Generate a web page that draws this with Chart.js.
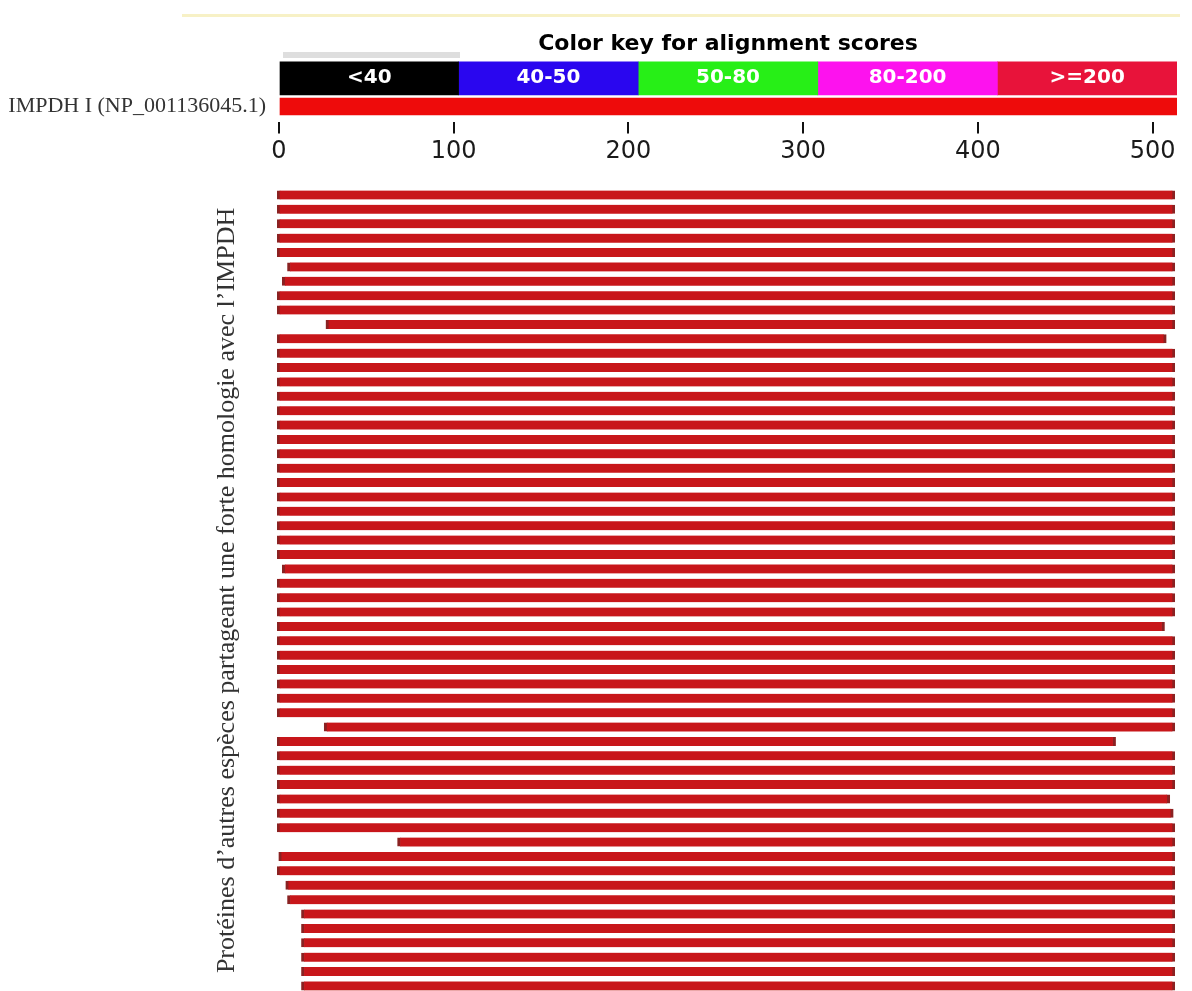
<!DOCTYPE html>
<html>
<head>
<meta charset="utf-8">
<title>IMPDH I - color key and hits</title>
<script src="https://cdn.jsdelivr.net/npm/chart.js@4.4.0/dist/chart.umd.min.js"></script>
<style>
  html, body { margin: 0; padding: 0; background: #fff; overflow: hidden; width: 1192px; height: 991px; }
  #wrap { position: relative; width: 1192px; height: 991px; }
  #rule { position: absolute; left: 182px; top: 14px; width: 998px; height: 3px; background: #f7f1c6; }
  #tab { position: absolute; left: 283px; top: 52px; width: 177px; height: 6px; background: #dedede; }
  #hitBox { position: absolute; left: 0; top: 0; width: 1192px; height: 1000px; }
  #keyBox { position: absolute; left: 0; top: 0; width: 1192px; height: 170px; }
</style>
</head>
<body>
<div id="wrap">
  <div id="rule"></div>
  <div id="tab"></div>
  <div id="hitBox"><canvas id="hitCanvas"></canvas></div>
  <div id="keyBox"><canvas id="keyCanvas"></canvas></div>
</div>
<script>
// query
const queryName = "IMPDH I (NP_001136045.1)";
const queryLength = 514;
const axisTicks = [0, 100, 200, 300, 400, 500];

// color key
const keyLabels = ["<40", "40-50", "50-80", "80-200", ">=200"];
const keyFrom = [0, 102.8, 205.6, 308.4, 411.2];
const keyTo = [102.8, 205.6, 308.4, 411.2, 514];
const keyColors = ["#000000", "#2a06ef", "#27ef17", "#fd12ee", "#e8133a"];

// hits, top to bottom (start / end on the query)
const hitStart = [0, 0, 0, 0, 0, 6, 3, 0, 0, 28,
                  0, 0, 0, 0, 0, 0, 0, 0, 0, 0,
                  0, 0, 0, 0, 0, 0, 3, 0, 0, 0,
                  0, 0, 0, 0, 0, 0, 0, 27, 0, 0,
                  0, 0, 0, 0, 0, 69, 1, 0, 5, 6,
                  14, 14, 14, 14, 14, 14];
const hitEnd = [514, 514, 514, 514, 514, 514, 514, 514, 514, 514,
                509, 514, 514, 514, 514, 514, 514, 514, 514, 514,
                514, 514, 514, 514, 514, 514, 514, 514, 514, 514,
                508, 514, 514, 514, 514, 514, 514, 514, 480, 514,
                514, 514, 511, 513, 514, 514, 514, 514, 514, 514,
                514, 514, 514, 514, 514, 514];
const yTitle = "Protéines d’autres espèces partageant une forte homologie avec l’IMPDH";

const hitLabels = hitStart.map((s, i) => "hit " + (i + 1));

// white text inside the color key boxes
const keyText = {
  id: "keyText",
  afterDatasetsDraw(chart) {
    const ctx = chart.ctx;
    ctx.save();
    ctx.font = 'bold 20px "DejaVu Sans"';
    ctx.fillStyle = "#fff";
    ctx.textAlign = "center";
    ctx.textBaseline = "middle";
    chart.data.datasets.forEach((ds, i) => {
      if (!ds.keyText) return;
      const bar = chart.getDatasetMeta(i).data[0];
      ctx.fillText(ds.label, (bar.x + bar.base) / 2, bar.y + 1);
    });
    ctx.restore();
  }
};

const keySets = keyLabels.map((lab, i) => ({
  label: lab,
  data: [[keyFrom[i], keyTo[i]], null],
  backgroundColor: keyColors[i],
  barThickness: 37,
  grouped: false,
  keyText: true
}));
keySets.push({
  label: "query",
  data: [null, [0, queryLength]],
  backgroundColor: "#ee0b0b",
  barThickness: 17,
  grouped: false
});

new Chart(document.getElementById("keyCanvas"), {
  type: "bar",
  data: { labels: ["", queryName], datasets: keySets },
  plugins: [keyText],
  options: {
    indexAxis: "y",
    responsive: true,
    maintainAspectRatio: false,
    animation: false,
    layout: { padding: { left: 0, right: 15, top: 0, bottom: 0 } },
    plugins: { legend: { display: false }, tooltip: { enabled: false } },
    scales: {
      x: {
        type: "linear", position: "bottom", min: 0, max: queryLength,
        afterBuildTicks: s => { s.ticks = axisTicks.map(v => ({ value: v })); },
        grid: { drawOnChartArea: false, drawTicks: true, tickLength: 12, color: "#111", lineWidth: 2 },
        border: { display: false },
        ticks: { font: { family: '"DejaVu Sans"', size: 24 }, color: "#1a1a1a", padding: 4, maxRotation: 0 },
        afterFit: s => { s.height = 170 - 121.5; }
      },
      x2: {
        type: "linear", position: "top", min: 0, max: queryLength,
        grid: { display: false }, border: { display: false }, ticks: { display: false },
        title: {
          display: true, text: "Color key for alignment scores", color: "#000",
          font: { family: '"DejaVu Sans"', size: 22, weight: "bold" },
          padding: { top: 31, bottom: 0 }
        },
        afterFit: s => { s.height = 61.5; }
      },
      y: {
        grid: { display: false }, border: { display: false },
        ticks: { font: { family: '"Liberation Serif"', size: 22 }, color: "#333", padding: 5 },
        afterFit: s => { s.width = 279; }
      }
    }
  }
});

new Chart(document.getElementById("hitCanvas"), {
  type: "bar",
  data: {
    labels: hitLabels,
    datasets: [{
      data: hitStart.map((s, i) => [s, hitEnd[i]]),
      backgroundColor: "#c8161a",
      borderColor: "#8a2222",
      borderWidth: { left: 3, right: 3, top: 0, bottom: 0 },
      borderSkipped: false,
      barThickness: 9
    }]
  },
  options: {
    indexAxis: "y",
    responsive: true,
    maintainAspectRatio: false,
    animation: false,
    layout: { padding: { top: 187.8, bottom: 6.9, right: 17, left: 0 } },
    plugins: { legend: { display: false }, tooltip: { enabled: false } },
    scales: {
      x: { type: "linear", min: 0, max: queryLength, display: false },
      y: {
        grid: { display: false }, border: { display: false }, ticks: { display: false },
        title: {
          display: true, text: yTitle, color: "#333",
          font: { family: '"Liberation Serif"', size: 26 },
          padding: { top: 212, bottom: 0 }
        },
        afterFit: s => { s.width = 277; }
      }
    }
  }
});
</script>
</body>
</html>
